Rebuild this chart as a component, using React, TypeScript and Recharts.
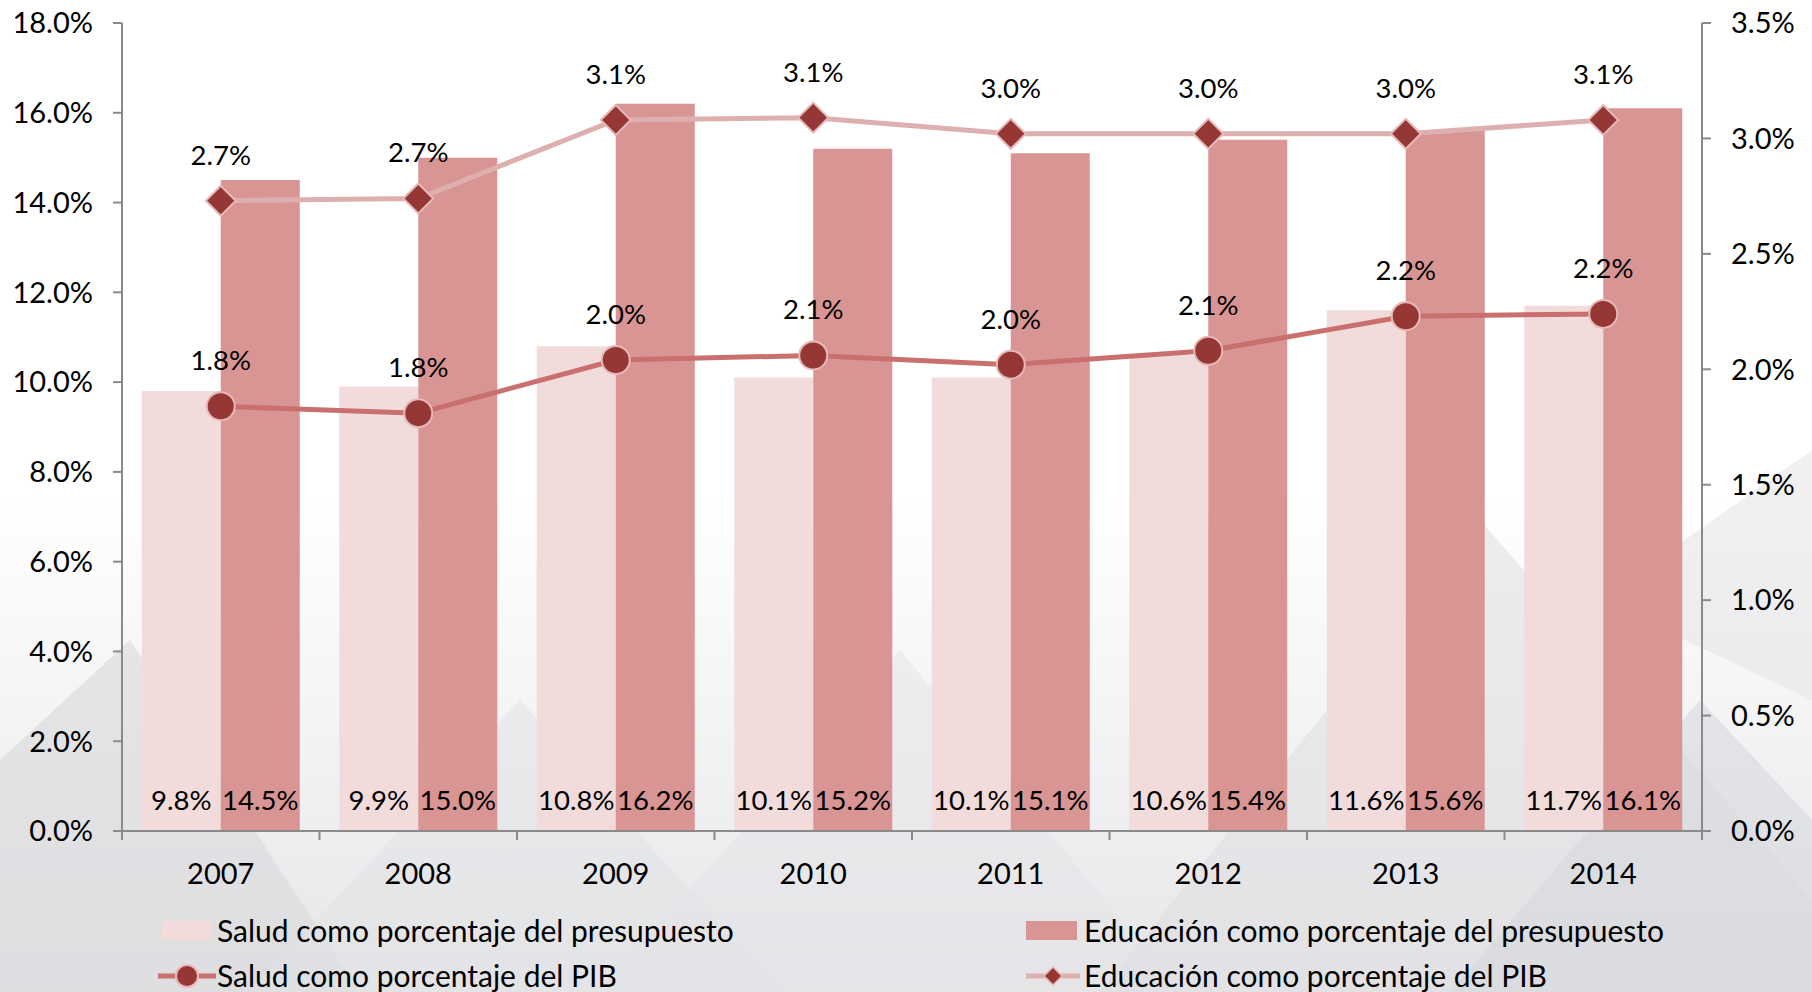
import React from 'react';
import { ComposedChart, Bar, Line, XAxis, YAxis, LabelList } from 'recharts';

const years = ['2007', '2008', '2009', '2010', '2011', '2012', '2013', '2014'];
const saludPresupuesto = [9.8, 9.9, 10.8, 10.1, 10.1, 10.6, 11.6, 11.7];
const educacionPresupuesto = [14.5, 15.0, 16.2, 15.2, 15.1, 15.4, 15.6, 16.1];
const saludPIB = [1.84, 1.81, 2.04, 2.06, 2.02, 2.08, 2.23, 2.24];
const educacionPIB = [2.73, 2.74, 3.08, 3.09, 3.02, 3.02, 3.02, 3.08];
const leftTicks = [0, 2, 4, 6, 8, 10, 12, 14, 16, 18];
const rightTicks = [0, 0.5, 1, 1.5, 2, 2.5, 3, 3.5];

const seriesNames = {
  sp: 'Salud como porcentaje del presupuesto',
  ep: 'Educación como porcentaje del presupuesto',
  spib: 'Salud como porcentaje del PIB',
  epib: 'Educación como porcentaje del PIB',
};

const data = years.map((y, i) => ({
  year: y,
  sp: saludPresupuesto[i],
  ep: educacionPresupuesto[i],
  spib: saludPIB[i],
  epib: educacionPIB[i],
}));

const FONT = 'Lato, "Noto Sans", sans-serif';
const FS = 27.5;
const FS_TICK = 29;
const FS_LEG = 30;
const AXIS = '#8a8a8a';
const C_SP = '#F2DCDB';
const C_EP = '#D99594';
const C_SPIB_LINE = '#C9706E';
const C_EPIB_LINE = '#DDB0AF';
const C_MARK = '#953735';
const C_MARK_BORDER = '#E6B9B8';

const pct = (v: any) => `${Number(v).toFixed(1)}%`;

const XTick = (props: any) => {
  const { x, y, payload, index, width, visibleTicksCount } = props;
  const off = payload && payload.offset != null ? payload.offset : width / visibleTicksCount / 2;
  const axisY = y - 9 - 23;
  const last = index === visibleTicksCount - 1;
  return (
    <g>
      <line x1={x - off} x2={x - off} y1={axisY} y2={axisY + 9} stroke={AXIS} strokeWidth={2} />
      {last && <line x1={x + off} x2={x + off} y1={axisY} y2={axisY + 9} stroke={AXIS} strokeWidth={2} />}
      <text x={x} y={y} dy="0.71em" textAnchor="middle" fontFamily={FONT} fontSize={FS_TICK} fill="#000">
        {payload.value}
      </text>
    </g>
  );
};

const Diamond = (props: any) => {
  const { cx, cy, index } = props;
  if (cx == null || cy == null) return <g key={`d${index}`} />;
  const r = 15;
  return (
    <polygon
      key={`d${index}`}
      points={`${cx},${cy - r} ${cx + r},${cy} ${cx},${cy + r} ${cx - r},${cy}`}
      fill={C_MARK}
      stroke={C_MARK_BORDER}
      strokeWidth={2}
    />
  );
};

const Background = () => (
  <svg width={1812} height={992} style={{ position: 'absolute', left: 0, top: 0 }}>
    <defs>
      <linearGradient id="bgGrad" x1="0" y1="0" x2="0" y2="1">
        <stop offset="0" stopColor="#ffffff" />
        <stop offset="0.5" stopColor="#ffffff" />
        <stop offset="1" stopColor="#e6e6e9" />
      </linearGradient>
    </defs>
    <rect x={0} y={0} width={1812} height={992} fill="url(#bgGrad)" />
    <polygon points="0,992 0,760 130,640 360,992" fill="#d8d9dc" opacity={0.6} />
    <polygon points="250,992 520,700 780,992" fill="#e0e1e4" opacity={0.55} />
    <polygon points="600,992 900,650 1180,992" fill="#e4e4e7" opacity={0.5} />
    <polygon points="1100,992 1480,520 1812,900 1812,992" fill="#dedfe2" opacity={0.55} />
    <polygon points="1450,992 1700,700 1812,820 1812,992" fill="#d6d7da" opacity={0.55} />
    <polygon points="1600,600 1812,450 1812,700" fill="#e3e3e6" opacity={0.55} />
  </svg>
);

const Legend = () => {
  const text: React.CSSProperties = {
    position: 'absolute',
    fontFamily: FONT,
    fontSize: FS_LEG,
    color: '#000',
    lineHeight: '32px',
    whiteSpace: 'nowrap',
  };
  return (
    <div style={{ position: 'absolute', left: 0, top: 0, width: 1812, height: 992 }}>
      <div style={{ position: 'absolute', left: 162, top: 921, width: 50, height: 19, background: C_SP }} />
      <div style={{ ...text, left: 217, top: 914 }}>{seriesNames.sp}</div>
      <div style={{ position: 'absolute', left: 1026, top: 921, width: 51, height: 19, background: C_EP }} />
      <div style={{ ...text, left: 1084, top: 914 }}>{seriesNames.ep}</div>
      <svg style={{ position: 'absolute', left: 156, top: 961 }} width={62} height={30}>
        <line x1={2} x2={60} y1={15} y2={15} stroke={C_SPIB_LINE} strokeWidth={5} />
        <circle cx={31} cy={15} r={11} fill={C_MARK} stroke={C_MARK_BORDER} strokeWidth={2} />
      </svg>
      <div style={{ ...text, left: 217, top: 959 }}>{seriesNames.spib}</div>
      <svg style={{ position: 'absolute', left: 1024, top: 961 }} width={58} height={30}>
        <line x1={2} x2={56} y1={15} y2={15} stroke={C_EPIB_LINE} strokeWidth={5} />
        <polygon points="29,6 38,15 29,24 20,15" fill={C_MARK} stroke={C_MARK_BORDER} strokeWidth={1.5} />
      </svg>
      <div style={{ ...text, left: 1084, top: 959 }}>{seriesNames.epib}</div>
    </div>
  );
};

export default function App() {
  return (
    <div style={{ position: 'absolute', left: 0, top: 0, width: 1812, height: 992, background: '#fff', overflow: 'hidden' }}>
      <Background />
      <div style={{ position: 'absolute', left: 0, top: 0 }}>
        <ComposedChart
          width={1812}
          height={992}
          data={data}
          margin={{ top: 23, right: 0, bottom: 101, left: 0 }}
          barCategoryGap="10%"
          barGap={0}
        >
          <XAxis
            dataKey="year"
            height={60}
            axisLine={{ stroke: AXIS, strokeWidth: 2 }}
            tickLine={false}
            tickSize={9}
            tickMargin={23}
            tick={<XTick />}
            interval={0}
          />
          <YAxis
            yAxisId="left"
            orientation="left"
            width={122}
            domain={[0, 18]}
            ticks={leftTicks}
            tickFormatter={pct}
            axisLine={{ stroke: AXIS, strokeWidth: 2 }}
            tickLine={{ stroke: AXIS, strokeWidth: 2 }}
            tickSize={9}
            tickMargin={20}
            tick={{ fontFamily: FONT, fontSize: FS_TICK, fill: '#000' }}
            interval={0}
          />
          <YAxis
            yAxisId="right"
            orientation="right"
            width={110}
            domain={[0, 3.5]}
            ticks={rightTicks}
            tickFormatter={pct}
            axisLine={{ stroke: AXIS, strokeWidth: 2 }}
            tickLine={{ stroke: AXIS, strokeWidth: 2 }}
            tickSize={9}
            tickMargin={20}
            tick={{ fontFamily: FONT, fontSize: FS_TICK, fill: '#000', textAnchor: 'start' }}
            interval={0}
          />
          <Bar yAxisId="left" dataKey="sp" name={seriesNames.sp} fill={C_SP} isAnimationActive={false}>
            <LabelList dataKey="sp" position="insideBottom" offset={21} formatter={pct} fill="#000" fontFamily={FONT} fontSize={FS} />
          </Bar>
          <Bar yAxisId="left" dataKey="ep" name={seriesNames.ep} fill={C_EP} isAnimationActive={false}>
            <LabelList dataKey="ep" position="insideBottom" offset={21} formatter={pct} fill="#000" fontFamily={FONT} fontSize={FS} />
          </Bar>
          <Line
            yAxisId="right"
            dataKey="spib"
            name={seriesNames.spib}
            stroke={C_SPIB_LINE}
            strokeWidth={5}
            dot={{ r: 14, fill: C_MARK, stroke: C_MARK_BORDER, strokeWidth: 2 }}
            activeDot={false}
            isAnimationActive={false}
          >
            <LabelList dataKey="spib" position="top" offset={36} formatter={pct} fill="#000" fontFamily={FONT} fontSize={FS} />
          </Line>
          <Line
            yAxisId="right"
            dataKey="epib"
            name={seriesNames.epib}
            stroke={C_EPIB_LINE}
            strokeWidth={5}
            dot={<Diamond />}
            activeDot={false}
            isAnimationActive={false}
          >
            <LabelList dataKey="epib" position="top" offset={36} formatter={pct} fill="#000" fontFamily={FONT} fontSize={FS} />
          </Line>
        </ComposedChart>
      </div>
      <Legend />
    </div>
  );
}
